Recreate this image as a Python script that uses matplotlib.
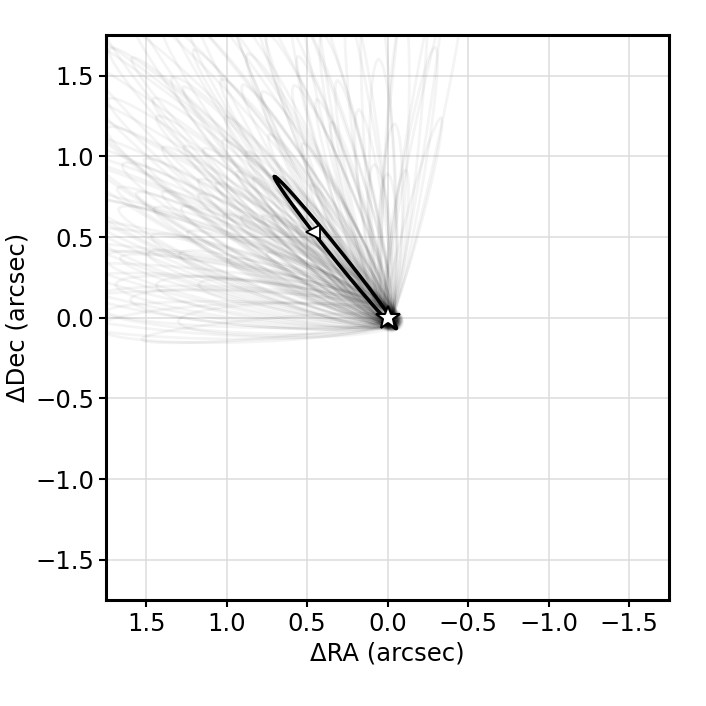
import numpy as np
import matplotlib.pyplot as plt

# posterior orbit draws: position angle of apoapsis (deg E of N), apoapsis and
# periapsis distance from the star (arcsec), projected half width (arcsec)
pa_deg = [-15, -12, -9, -7, -5, -3, 0, 3, 5, 7, 10, 12, 14, 16, 18, 19, 21, 23,
          26, 27, 29, 31, 33, 35, 36, 38, 40, 41.6, 43, 44.6, 46, 47, 48, 50, 51,
          52, 54, 55, 57, 58, 60, 61, 63.7, 64.5, 66, 67, 69, 71, 72, 74, 75,
          77.4, 79, 80, 82, 84, 86, 88.7, 91, 95, 70, 62, 45, 30, 53, 37, 20, 65,
          32, 34, 39, 42, 44, 46, 49, 50, 52, 53, 56, 57, 59, 60, 62, 63, 65, 67,
          68, 70, 73, 76, 78, 81, 83, 85, 87, 89, 92, 47.5, 40.5, 37.5, 28, 25,
          22, 17, 13, 8, 2, -2, -10, 55.5, 48.5, 43.5, 33.5]
r_apo = [1.28, 2.4, 2.2, 0.92, 2.6, 1.9, 0.89, 2.3, 0.95, 2.0, 2.5, 1.5, 2.2,
         1.26, 1.42, 1.71, 2.3, 1.9, 1.2, 2.1, 1.6, 2.4, 1.35, 1.8, 2.05, 1.1,
         2.5, 1.91, 1.5, 2.26, 1.3, 1.99, 2.7, 1.65, 1.0, 2.2, 1.45, 2.4, 1.8,
         1.2, 2.3, 1.6, 1.74, 1.86, 2.5, 1.35, 2.0, 1.55, 2.6, 1.9, 1.54, 1.7,
         2.2, 1.19, 1.45, 2.0, 1.6, 1.74, 1.3, 1.53, 1.05, 0.85, 0.8, 0.95, 3.0,
         2.9, 2.8, 3.0,
         1.7, 2.2, 1.6, 2.0, 1.2, 2.4, 1.9, 2.9, 1.35, 1.75, 2.1, 1.4, 2.7, 1.9,
         1.45, 2.2, 1.6, 2.8, 1.8, 2.3, 1.35, 2.5, 1.8, 2.3, 1.7, 2.6, 1.9, 2.2,
         1.8, 1.55, 1.35, 2.3, 1.85, 2.5, 1.55, 2.0, 1.8, 1.3, 1.6, 1.2, 1.7,
         1.1, 0.95, 2.6, 2.7]
r_peri = [0.06, 0.07, 0.06, 0.05, 0.08, 0.06, 0.05, 0.07, 0.06, 0.07, 0.08, 0.06,
          0.07, 0.05, 0.06, 0.06, 0.08, 0.07, 0.06, 0.07, 0.06, 0.08, 0.06, 0.07,
          0.07, 0.05, 0.08, 0.07, 0.06, 0.07, 0.06, 0.07, 0.09, 0.06, 0.05, 0.08,
          0.06, 0.08, 0.07, 0.06, 0.08, 0.06, 0.07, 0.07, 0.08, 0.06, 0.07, 0.06,
          0.09, 0.07, 0.06, 0.07, 0.08, 0.06, 0.06, 0.07, 0.06, 0.06, 0.06, 0.05,
          0.05, 0.05, 0.05, 0.05, 0.1, 0.09, 0.09, 0.1,
          0.07, 0.08, 0.06, 0.07, 0.05, 0.08, 0.07, 0.09, 0.06, 0.07, 0.08, 0.06,
          0.09, 0.07, 0.06, 0.08, 0.06, 0.09, 0.07, 0.08, 0.06, 0.09, 0.07, 0.08,
          0.07, 0.09, 0.07, 0.08, 0.07, 0.06, 0.06, 0.08, 0.07, 0.08, 0.06, 0.07,
          0.06, 0.06, 0.06, 0.05, 0.06, 0.05, 0.05, 0.09, 0.09]
half_w = [0.05, 0.08, 0.06, 0.05, 0.1, 0.07, 0.06, 0.09, 0.07, 0.08, 0.12, 0.07,
          0.1, 0.06, 0.07, 0.08, 0.12, 0.1, 0.07, 0.09, 0.1, 0.14, 0.08, 0.1,
          0.09, 0.07, 0.15, 0.09, 0.08, 0.1, 0.07, 0.11, 0.16, 0.09, 0.06, 0.12,
          0.1, 0.14, 0.1, 0.08, 0.15, 0.1, 0.09, 0.1, 0.16, 0.09, 0.12, 0.1,
          0.18, 0.13, 0.1, 0.1, 0.15, 0.09, 0.12, 0.14, 0.11, 0.08, 0.1, 0.06,
          0.07, 0.06, 0.05, 0.06, 0.2, 0.18, 0.16, 0.22,
          0.09, 0.12, 0.08, 0.12, 0.07, 0.13, 0.1, 0.2, 0.08, 0.1, 0.13, 0.09,
          0.18, 0.12, 0.1, 0.14, 0.1, 0.2, 0.12, 0.16, 0.1, 0.18, 0.13, 0.17,
          0.12, 0.2, 0.14, 0.15, 0.12, 0.09, 0.08, 0.13, 0.1, 0.14, 0.09, 0.11,
          0.09, 0.07, 0.08, 0.07, 0.07, 0.07, 0.06, 0.16, 0.17]

# highlighted orbit and current epoch along it
best_pa, best_apo, best_peri, best_hw = 38.8, 1.12, 0.086, 0.03
now_phase_deg = 72


def projected_orbit(pa, apo, peri, hw, t):
    th = np.radians(pa)
    u = np.array([np.sin(th), np.cos(th)])
    v = np.array([np.cos(th), -np.sin(th)])
    c = (apo - peri) / 2
    a = (apo + peri) / 2
    along = c + a * np.cos(t)
    across = hw * np.sin(t)
    return along * u[0] + across * v[0], along * u[1] + across * v[1]


t = np.linspace(0, 2 * np.pi, 400)

fig = plt.figure(figsize=(7.06, 7.06), dpi=100)
ax = fig.add_axes([0.150, 0.150, 0.798, 0.800])

for pa, apo, peri, hw in zip(pa_deg, r_apo, r_peri, half_w):
    ra, dec = projected_orbit(pa, apo, peri, hw, t)
    ax.plot(ra, dec, color='k', alpha=0.045, lw=2, zorder=2)

ra, dec = projected_orbit(best_pa, best_apo, best_peri, best_hw, t)
ax.plot(ra, dec, color='k', lw=2.6, zorder=4)
ra_now, dec_now = projected_orbit(best_pa, best_apo, best_peri, best_hw,
                                  np.radians(now_phase_deg))
ax.plot(ra_now, dec_now, marker='<', ms=10, mfc='white', mec='k', mew=1.3,
        ls='none', zorder=5)
ax.plot(0, 0, marker='*', ms=18, mfc='white', mec='k', mew=1.5, ls='none',
        zorder=6)

ax.set_xlim(1.75, -1.75)
ax.set_ylim(-1.75, 1.75)
ticks = [1.5, 1.0, 0.5, 0.0, -0.5, -1.0, -1.5]
ax.set_xticks(ticks)
ax.set_yticks(ticks)
ax.grid(True, color='#dcdcdc', lw=1.1, zorder=0)
ax.set_axisbelow(True)
ax.tick_params(labelsize=17.5, length=5, width=1.5, direction='out')
for s in ax.spines.values():
    s.set_linewidth(2.2)
ax.set_xlabel('ΔRA (arcsec)', fontsize=17.5)
ax.set_ylabel('ΔDec (arcsec)', fontsize=17.5)

fig.savefig('out.png', dpi=100)
